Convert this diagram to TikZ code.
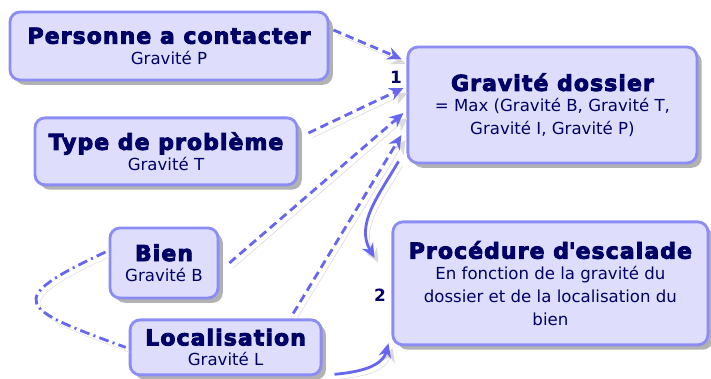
\documentclass[tikz,border=0pt]{standalone}
\usepackage{fontspec}
\setmainfont{DejaVu Sans}
\newfontfamily\headfont{DejaVu Sans Bold}[LetterSpace=5,FakeBold=4]
\usetikzlibrary{arrows.meta, shadows}

\definecolor{boxfill}{RGB}{222,222,252}
\definecolor{boxline}{RGB}{140,140,245}
\definecolor{linkblue}{RGB}{102,102,240}
\definecolor{inkblue}{RGB}{0,0,102}

\newcommand{\heading}[1]{{\headfont\fontsize{15.6}{18}\selectfont #1}}

\begin{document}
\begin{tikzpicture}[
			font=\fontsize{11.8}{16.5}\selectfont,
			box/.style={
					draw=boxline,
					line width=2pt,
					fill=boxfill,
					rounded corners=0.25cm,
					align=center,
					text=inkblue,
					inner sep=2pt,
					drop shadow={shadow xshift=0.12cm, shadow yshift=-0.12cm, fill=black, opacity=0.3}
				},
			link/.style={
			draw=linkblue,
			line width=2pt,
			dash pattern=on 6pt off 3.5pt,
			-{Stealth[length=10pt,width=9pt]},
			preaction={draw=black!15, transform canvas={shift={(0.1,-0.12)}}}
			},
			flow/.style={
			draw=linkblue,
			line width=2pt,
			-{Stealth[length=10pt,width=9pt]},
			preaction={draw=black!15, transform canvas={shift={(0.1,-0.12)}}}
			},
			tie/.style={
			draw=linkblue,
			line width=2pt,
			dash pattern=on 7pt off 3pt on 1.5pt off 3pt,
			preaction={draw=black!12, transform canvas={shift={(0.1,-0.12)}}}
			},
			num/.style={
					font=\bfseries\fontsize{12}{14}\selectfont,
					text=inkblue
				}
			]
			\useasboundingbox (0,0) rectangle (17.775,9.475);

			% ================= sources de gravite =================
			\node[box, minimum width=7.95cm, minimum height=1.7cm] (P) at (4.225,8.325)
			{\heading{Personne a contacter}\\[-2pt]Gravité P};
			\node[box, minimum width=6.55cm, minimum height=1.675cm] (T) at (4.15,5.69)
			{\heading{Type de problème}\\[-2pt]Gravité T};
			\node[box, minimum width=2.7cm, minimum height=1.75cm] (B) at (4.1,2.9)
			{\heading{Bien}\\[-2pt]Gravité B};
			\node[box, minimum width=4.775cm, minimum height=1.375cm] (L) at (5.64,0.79)
			{\heading{Localisation}\\[-2pt]Gravité L};

			% ================= resultats =================
			\node[box, minimum width=7.225cm, minimum height=2.9cm] (G) at (13.81,6.85)
			{\heading{Gravité dossier}\\[-2pt]= Max (Gravité B, Gravité T,\\Gravité I, Gravité P)};
			\node[box, minimum width=7.875cm, minimum height=3.075cm] (E) at (13.76,2.39)
			{\heading{Procédure d\textquotesingle escalade}\\[-2pt]En fonction de la gravité du\\dossier et de la localisation du\\bien};

			\node[num] (one) at (9.9,7.55) {1};
			\node[num] (two) at (9.5,2.1) {2};

			% ================= liens vers la gravite du dossier =================
			\draw[link] ([shift={(0.1,0.4)}]P.east) -- ([shift={(-0.125,1.15)}]G.west);
			\draw[link] ([shift={(0.25,0.46)}]T.east) -- ([shift={(-0.075,0.425)}]G.west);
			\draw[link] ([xshift=0.25cm]B.east) -- ([shift={(-0.075,-0.2)}]G.west);
			\draw[link] ([shift={(1.69,0.125)}]L.north) -- ([shift={(-0.125,-0.75)}]G.west);

			% gravite du dossier puis localisation vers l'escalade
			\draw[flow] ([shift={(-0.2,0.075)}]G.south west)
			to[out=240, in=120] ([shift={(-0.425,0.64)}]E.west);
			\draw[flow] ([shift={(0.3,0.05)}]L.south east)
			to[out=5, in=255] ([shift={(-0.075,0.075)}]E.south west);

			% bien et localisation, lien sans fleche
			\draw[tie] ([shift={(-0.075,0.275)}]B.west)
			to[out=205, in=160, looseness=3] ([xshift=-0.075cm]L.west);

		\end{tikzpicture}
\end{document}
